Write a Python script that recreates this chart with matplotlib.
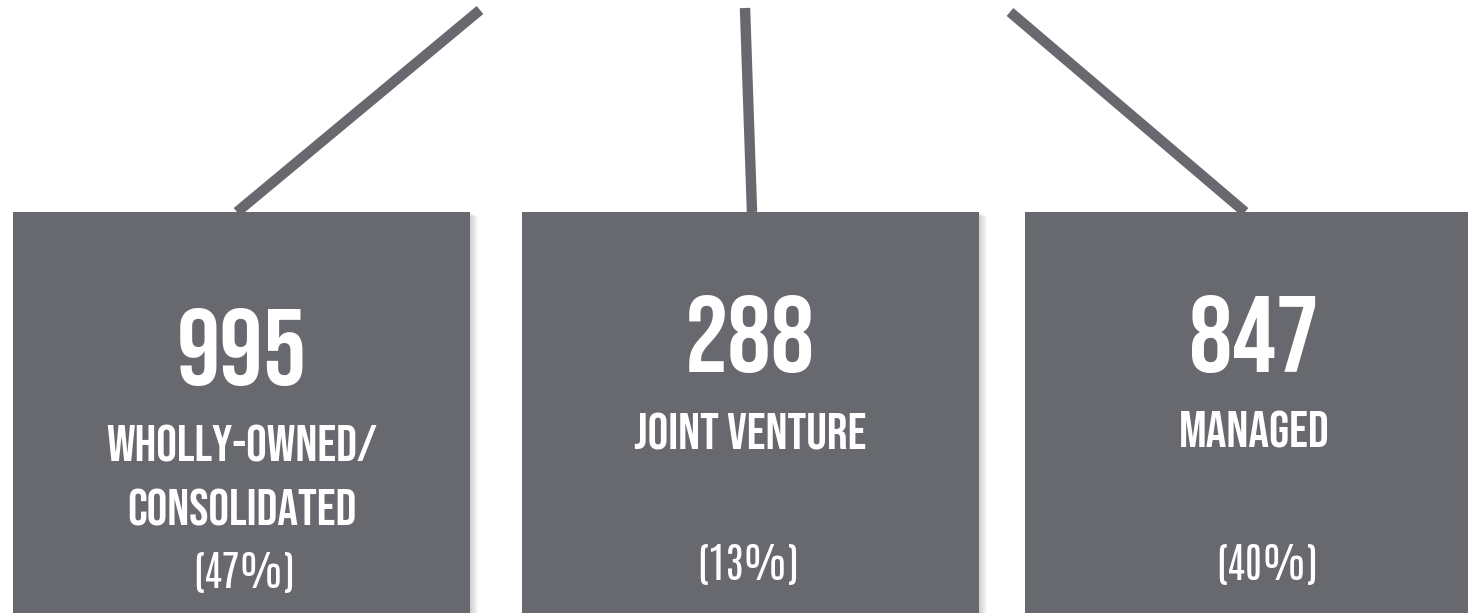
import matplotlib
matplotlib.use('Agg')
import matplotlib.pyplot as plt
import matplotlib.patches as patches

# values
counts = ['995', '288', '847']
labels = ['WHOLLY-OWNED/\nCONSOLIDATED', 'JOINT VENTURE', 'MANAGED']
shares = ['(47%)', '(13%)', '(40%)']

# layout (pixels, y grows downward)
boxLeft = [13, 522, 1025]
boxWidth = [457, 457, 457]
boxTop = 212
lineTop = [(480, 10), (745, 8), (1010, 12)]
lineFoot = [237, 752, 1245]
textX = [242, 750, 1254]
numberBase = [385, 372, 372]
labelBase = [[462, 526], [449], [448]]
shareBase = [588, 580, 580]
shareX = [244, 748, 1267]

grey = '#68696e'
headFont = 'Bebas Neue'
shareFont = 'Antonio'

fig = plt.figure(figsize=(14.68, 6.13), dpi=100)
ax = fig.add_axes([0, 0, 1, 1])
ax.set_xlim(0, 1468)
ax.set_ylim(613, 0)
ax.axis('off')

for i in range(len(counts)):
	x0 = boxLeft[i]
	w = boxWidth[i]

	# soft shadow on the right side
	for k in range(1, 9):
		ax.add_patch(patches.Rectangle((x0 + k, boxTop + k * 0.5), w, 613, facecolor='black', alpha=0.025, lw=0, zorder=1))
	ax.add_patch(patches.Rectangle((x0, boxTop), w, 620 - boxTop, facecolor=grey, lw=0, zorder=2))

	ax.plot([lineTop[i][0], lineFoot[i]], [lineTop[i][1], boxTop], color=grey, lw=7.5, solid_capstyle='butt', zorder=1)

	ax.text(textX[i], numberBase[i], counts[i], color='white', fontsize=78, family=headFont,
		ha='center', va='baseline', zorder=3)
	for line, y in zip(labels[i].split('\n'), labelBase[i]):
		ax.text(textX[i], y, line, color='white', fontsize=37, family=headFont,
			ha='center', va='baseline', zorder=3)
	ax.text(shareX[i], shareBase[i], shares[i], color='white', fontsize=30, family=shareFont,
		ha='center', va='baseline', zorder=3)

fig.savefig('out.png', dpi=100, facecolor='white')
